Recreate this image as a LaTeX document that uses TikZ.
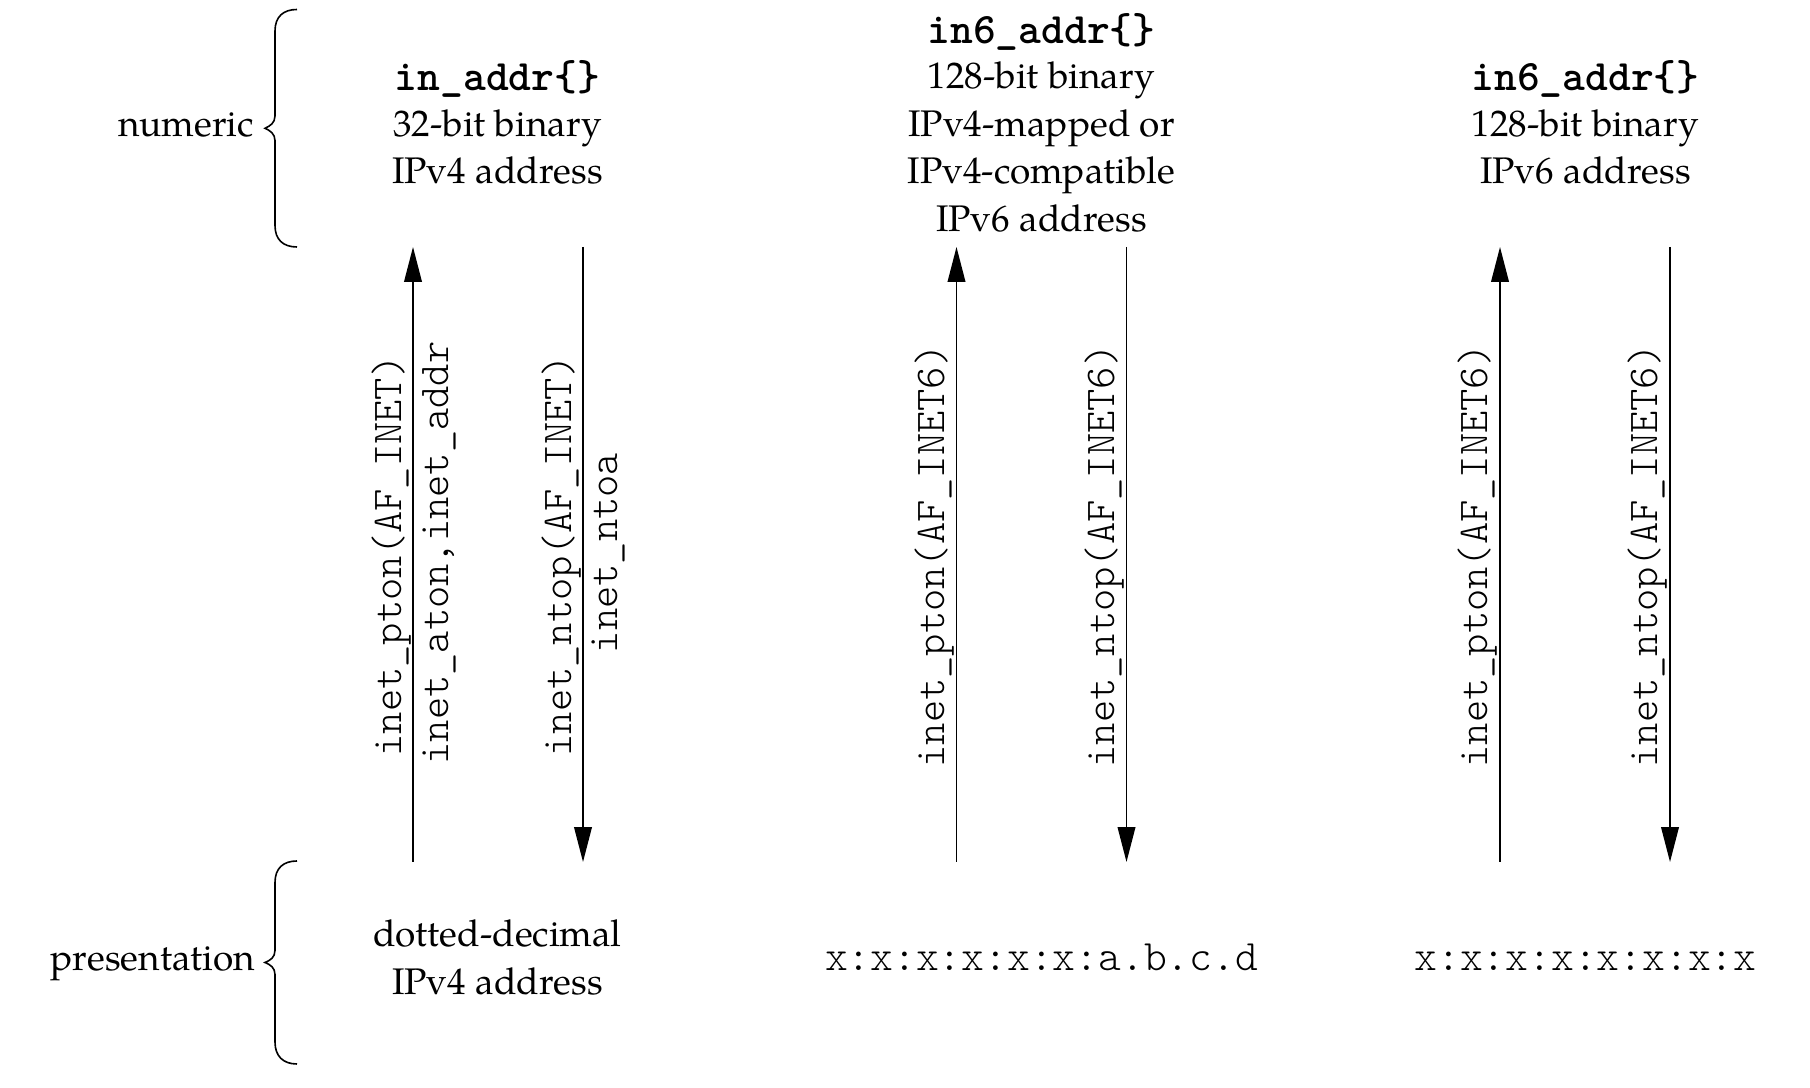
\documentclass[tikz,border=0pt]{standalone}
\usepackage{fontspec}
\setmainfont{TeX Gyre Pagella}
\setmonofont{Latin Modern Mono Light}
\usetikzlibrary{arrows.meta}
\begin{document}
\begin{tikzpicture}[x=0.25pt,y=-0.25pt,
  lbl/.style={inner sep=0pt, outer sep=0pt, anchor=base, font=\fontsize{9.25}{11.9}\selectfont},
  mlbl/.style={lbl, font=\fontsize{10.85}{12}\selectfont\ttfamily},
  bmlbl/.style={lbl, font=\fontsize{10.85}{12}\selectfont\ttfamily\bfseries},
  rlbl/.style={lbl, rotate=90, font=\fontsize{10.6}{12}\selectfont\ttfamily},
  conv/.style={draw, line width=0.4pt, -{Triangle[length=8.7pt,width=4.4pt]}},
  bracestyle/.style={draw, line width=0.4pt}]
\useasboundingbox (0,0) rectangle (1810,1088);

% braces
\draw[bracestyle] (297,9.5) .. controls (283,9.5) and (275,17) .. (275,31) -- (275,116)
  .. controls (275,123) and (270,126) .. (265,128.3) .. controls (270,130.6) and (275,133.6) .. (275,140.6)
  -- (275,225.5) .. controls (275,239.5) and (283,247) .. (297,247);
\draw[bracestyle] (297,861) .. controls (283,861) and (275,868.5) .. (275,882.5) -- (275,950.5)
  .. controls (275,957.5) and (270,960.5) .. (265,962.5) .. controls (270,964.5) and (275,967.5) .. (275,974.5)
  -- (275,1042) .. controls (275,1056) and (283,1064) .. (297,1064);

% group labels
\node[lbl, anchor=base east] (numeric) at (254,136.5) {numeric};
\node[lbl, anchor=base east] (pres) at (255,971) {presentation};

% column 1
\node[bmlbl] (n1a) at (497.5,91) {in\_addr\{\}};
\node[lbl] (n1b) at (497.5,136.5) {32-bit binary};
\node[lbl] (n1c) at (497.5,184) {IPv4 address};
\node[lbl] (p1a) at (497.5,947) {dotted-decimal};
\node[lbl] (p1b) at (497.5,995) {IPv4 address};

% column 2
\node[bmlbl] (n2a) at (1041.5,44) {in6\_addr\{\}};
\node[lbl] (n2b) at (1041.5,88.5) {128-bit binary};
\node[lbl] (n2c) at (1041.5,136.5) {IPv4-mapped or};
\node[lbl] (n2d) at (1041.5,184) {IPv4-compatible};
\node[lbl] (n2e) at (1041.5,231.5) {IPv6 address};
\node[mlbl] (p2) at (1041.5,971) {x:x:x:x:x:x:a.b.c.d};

% column 3
\node[bmlbl] (n3a) at (1585.5,91) {in6\_addr\{\}};
\node[lbl] (n3b) at (1585.5,136.5) {128-bit binary};
\node[lbl] (n3c) at (1585.5,184) {IPv6 address};
\node[mlbl] (p3) at (1585.5,971) {x:x:x:x:x:x:x:x};

% arrow end points
\coordinate (a1t) at (413,247);   \coordinate (a1b) at (413,862);
\coordinate (b1t) at (583,247);   \coordinate (b1b) at (583,862);
\coordinate (a2t) at (956.5,247); \coordinate (a2b) at (956.5,862);
\coordinate (b2t) at (1126.5,247);\coordinate (b2b) at (1126.5,862);
\coordinate (a3t) at (1500,247);  \coordinate (a3b) at (1500,862);
\coordinate (b3t) at (1670,247);  \coordinate (b3b) at (1670,862);

\draw[conv] (a1b) -- (a1t);
\draw[conv] (b1t) -- (b1b);
\draw[conv] (a2b) -- (a2t);
\draw[conv] (b2t) -- (b2b);
\draw[conv] (a3b) -- (a3t);
\draw[conv] (b3t) -- (b3b);

% rotated labels
\node[rlbl] (r1a) at (401.5,556) {inet\_pton(AF\_INET)};
\node[rlbl] (r1b) at (448,553) {inet\_aton,inet\_addr};
\node[rlbl] (r1c) at (571,556) {inet\_ntop(AF\_INET)};
\node[rlbl] (r1d) at (617,553) {inet\_ntoa};
\node[rlbl] (r2a) at (944,556) {inet\_pton(AF\_INET6)};
\node[rlbl] (r2b) at (1114,556) {inet\_ntop(AF\_INET6)};
\node[rlbl] (r3a) at (1487.5,556) {inet\_pton(AF\_INET6)};
\node[rlbl] (r3b) at (1657.5,556) {inet\_ntop(AF\_INET6)};
\end{tikzpicture}
\end{document}
